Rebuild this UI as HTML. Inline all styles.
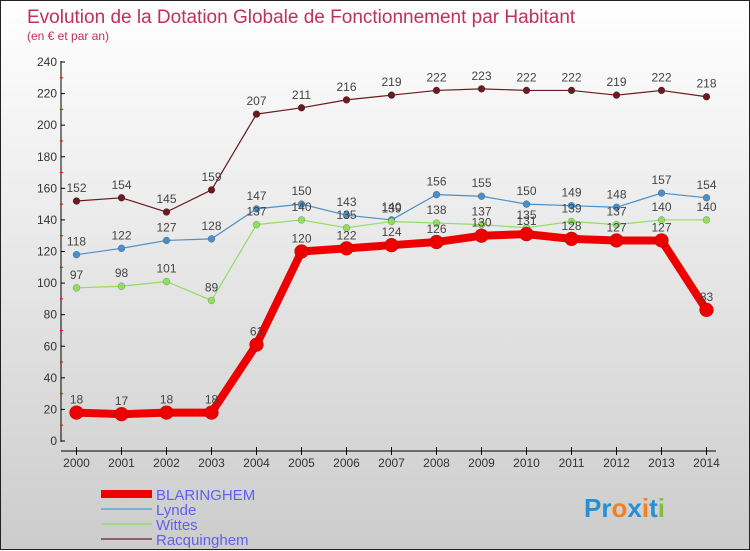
<!DOCTYPE html>
<html><head><meta charset="utf-8"><style>
html,body{margin:0;padding:0}
body{width:750px;height:550px;overflow:hidden;font-family:"Liberation Sans",sans-serif}
#c{position:relative;width:748px;height:548px;border:1px solid #222;background:linear-gradient(#ffffff,#f0f0f0 30%,#cccccc)}
svg{position:absolute;left:0;top:0}
</style></head><body>
<div id="c">
<svg id="s" width="750" height="550">
<text x="26" y="22" font-size="19" fill="#c0305a">Evolution de la Dotation Globale de Fonctionnement par Habitant</text>
<text x="26" y="39" font-size="12" fill="#c0305a">(en € et par an)</text>
<g id="axes"></g><g id="series"></g><g id="legend"></g>
<text x="583" y="516" font-size="26" font-weight="bold" fill="#2a8fd0">Pr<tspan fill="#f08020">o</tspan>x<tspan fill="#f08020">i</tspan>t<tspan fill="#80c040">i</tspan></text>
</svg></div>
<script>
const years=[2000,2001,2002,2003,2004,2005,2006,2007,2008,2009,2010,2011,2012,2013,2014];
const yTicks=[0,20,40,60,80,100,120,140,160,180,200,220,240];
const blaringhem=[18,17,18,18,61,120,122,124,126,130,131,128,127,127,83];
const lynde=[118,122,127,128,147,150,143,140,156,155,150,149,148,157,154];
const wittes=[97,98,101,89,137,140,135,139,138,137,135,139,137,140,140];
const racquinghem=[152,154,145,159,207,211,216,219,222,223,222,222,219,222,218];
const NS='http://www.w3.org/2000/svg';
const X=i=>75.5+i*45, Y=v=>440-v*379/240;
function mk(t,a,p){const e=document.createElementNS(NS,t);for(const k in a)e.setAttribute(k,a[k]);p.appendChild(e);return e;}
const ax=document.getElementById('axes');
let e=mk('line',{x1:60,y1:60,x2:60,y2:441,stroke:'#000','stroke-width':1},ax);


e=mk('line',{x1:60,y1:450,x2:715,y2:450,stroke:'#000','stroke-width':1},ax);


yTicks.forEach((v,i)=>{
 mk('line',{x1:60,y1:Y(v),x2:64,y2:Y(v),stroke:'#000'},ax);
 if(i<yTicks.length-1)mk('line',{x1:59,y1:Y(v+10),x2:62,y2:Y(v+10),stroke:'#f00'},ax);
 const t=mk('text',{x:56,y:Y(v)+4,'font-size':12,fill:'#333','text-anchor':'end'},ax);t.textContent=v;
 
 
});
years.forEach((y,i)=>{
 mk('line',{x1:X(i),y1:446,x2:X(i),y2:454,stroke:'#000'},ax);
 const t=mk('text',{x:X(i),y:466,'font-size':12,fill:'#333','text-anchor':'middle'},ax);t.textContent=y;
 
 
});
const sg=document.getElementById('series');
function draw(data,color,w,r,name,labels){
 const g=mk('g',{},sg);
 
 
 const pl=mk('polyline',{points:data.map((v,i)=>X(i)+','+Y(v)).join(' '),fill:'none',stroke:color,'stroke-width':w,'stroke-linejoin':'round'},g);
 
 
 data.forEach((v,i)=>{
  const c=mk('circle',{cx:X(i),cy:Y(v),r:r,fill:color,stroke:'rgba(0,0,0,0.3)','stroke-width':0.5},g);
  
  
  const t=mk('text',{x:X(i),y:Y(v)-9,'font-size':12,fill:'#444','text-anchor':'middle'},g);t.textContent=v;
  
  
 });
}
draw(racquinghem,'#6a1a20',1.2,3.5,'racquinghem');
draw(lynde,'#4a8fc8',1.2,3.5,'lynde');
draw(wittes,'#90dd60',1.2,3.5,'wittes');
draw(blaringhem,'#ee0000',8,7,'blaringhem');
const lg=document.getElementById('legend');
const items=[['BLARINGHEM','#ee0000',8],['Lynde','#7fb0d0',2],['Wittes','#a0dd80',2],['Racquinghem','#906060',2]];
items.forEach((it,i)=>{
 const y=493+i*15;
 const l=mk('line',{x1:100,y1:y,x2:151,y2:y,stroke:it[1],'stroke-width':it[2]},lg);
 
 
 const t=mk('text',{x:155,y:y+6,'font-size':15,fill:'#6060ee'},lg);t.textContent=it[0];
 
 
});
</script>
</body></html>
